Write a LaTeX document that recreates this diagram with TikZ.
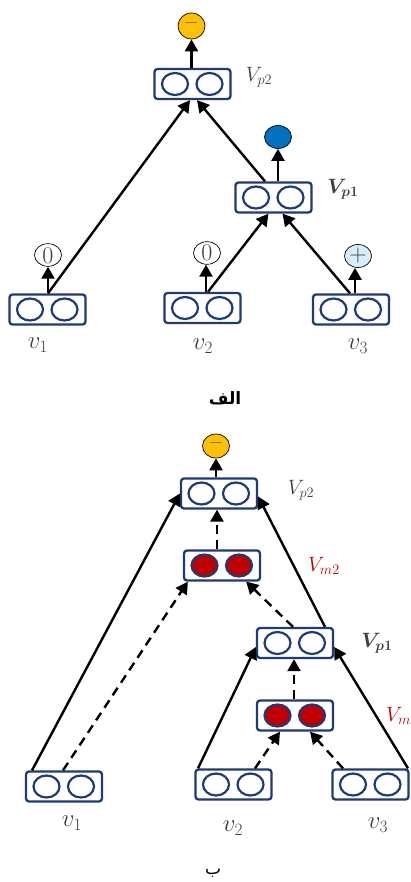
\documentclass[tikz,border=0pt]{standalone}
\usepackage{fontspec}
\usepackage{amsmath,bm}
\usetikzlibrary{shapes.geometric,arrows.meta,calc}
\TeXXeTstate=1
\newfontfamily\arabicfont[Script=Arabic]{DejaVu Sans}
\definecolor{navy}{HTML}{1F3A78}
\definecolor{txtg}{HTML}{404040}
\definecolor{redf}{HTML}{C00000}
\definecolor{yelf}{HTML}{FFC000}
\definecolor{bluef}{HTML}{0070C0}
\definecolor{lbluef}{HTML}{D5EEFB}
\tikzset{
  boxst/.style={rectangle, rounded corners=3pt, draw=navy, line width=2.3pt, fill=white,
     minimum width=76pt, minimum height=30pt, inner sep=0pt},
  innerc/.style={ellipse, draw=navy, line width=2.2pt, minimum width=26pt, minimum height=22pt, inner sep=0pt},
  outc/.style={ellipse, draw=black, line width=0.7pt, minimum width=27pt, inner sep=0pt, text=txtg,
     font=\fontsize{24}{24}\selectfont},
  arr/.style={line width=2.4pt, -{Triangle[width=13pt,length=12pt]}},
  darr/.style={line width=2.4pt, dash pattern=on 9pt off 6pt, -{Triangle[width=13pt,length=12pt]}},
  lab/.style={text=txtg, font=\fontsize{24}{24}\selectfont, inner sep=0pt},
  biglab/.style={text=txtg, font=\fontsize{21}{21}\selectfont, inner sep=0pt},
  redlab/.style={text=redf, font=\fontsize{21}{21}\selectfont, inner sep=0pt},
}
\newcommand\twobox[4]{%
  \node[boxst] (#1) at (#2,#3) {};
  \node[innerc, fill=#4] (#1l) at ([xshift=-17.5pt]#1.center) {};
  \node[innerc, fill=#4] (#1r) at ([xshift=17pt]#1.center) {};
}
\begin{document}
\begin{tikzpicture}[x=1pt,y=-1pt]
\useasboundingbox (0,0) rectangle (411,882);
% ---------- Part A ----------
\twobox{vpa}{192.5}{84}{white}
\twobox{vpb}{273.5}{197.5}{white}
\twobox{vaa}{47.5}{309.5}{white}
\twobox{vab}{202.5}{308}{white}
\twobox{vac}{351}{309.5}{white}

\node[outc, fill=yelf, minimum height=26pt, font=\fontsize{20}{20}\selectfont] (ya) at (191.5,26) {\raisebox{1pt}{\textbf{–}}};
\node[outc, fill=bluef, minimum height=23pt] (ba) at (278,137) {};
\node[outc, minimum height=20pt, text depth=0pt, text height=16pt] (za) at (48,255) {0};
\node[outc, minimum height=20pt, text depth=0pt, text height=16pt] (zb) at (207,253) {0};
\node[outc, fill=lbluef, minimum height=23pt] (pa) at (358,256) {+};

\draw[arr] (ya.south |- vpa.north) -- (ya.south);
\draw[arr] (ba.south |- vpb.north) -- (ba.south);
\draw[arr] (za.south |- vaa.north) -- (za.south);
\draw[arr] ([xshift=-1pt]zb.south |- vab.north) -- ([xshift=-1pt]zb.south);
\draw[arr] ([xshift=-3pt]pa.south |- vac.north) -- ([xshift=-3pt]pa.south);

\draw[arr] ([xshift=0.5pt]vaa.north) -- ([xshift=-2.5pt]vpa.south);
\draw[arr] ([xshift=-8.5pt]vpb.north) -- ([xshift=4.5pt]vpa.south);
\draw[arr] ([xshift=5.5pt]vab.north) -- ([xshift=-5pt]vpb.south);
\draw[arr] ([xshift=-1pt]vac.north) -- ([xshift=9pt]vpb.south);

\node[biglab] (lvp2a) at (259,77) {$V_{p2}$};
\node[biglab] (lvp1a) at (343,189) {$\bm{V}_{\bm{p1}}$};
\node[lab] (lv1a) at (38,345) {$v_1$};
\node[lab] (lv2a) at (203,346) {$v_2$};
\node[lab] (lv3a) at (358,346) {$v_3$};
\node[inner sep=0pt, font=\fontsize{17}{17}\selectfont\bfseries] (capa) at (225,398) {\arabicfont\beginR الف\endR};

% ---------- Part B ----------
\twobox{vpc}{219}{493.5}{white}
\twobox{vmc}{222}{565.5}{redf}
\twobox{vpd}{295}{643}{white}
\twobox{vmd}{295}{715.5}{redf}
\twobox{vba}{64}{786.5}{white}
\twobox{vbb}{233.5}{784.5}{white}
\twobox{vbc}{370.5}{784.5}{white}

\node[outc, fill=yelf, minimum height=24pt, font=\fontsize{20}{20}\selectfont] (yb) at (216,446) {\raisebox{1pt}{\textbf{–}}};
\draw[arr] (yb.south |- vpc.north) -- (yb.south);

\draw[darr] ([xshift=-2pt]vpc.south |- vmc.north) -- ([xshift=-2pt]vpc.south);
\draw[darr] ([xshift=-1pt]vmd.north) -- ([xshift=-1pt]vpd.south);

\draw[arr] ([xshift=-32pt]vba.north) -- (vpc.west);
\draw[darr] ([xshift=-1pt]vba.north) -- ([xshift=5pt]vmc.south west);
\draw[darr] ([xshift=-2pt]vpd.north) -- ([xshift=-15pt]vmc.south east);
\draw[arr] ([xshift=30pt]vpd.north) -- ([yshift=-3pt]vpc.east);

\draw[arr] ([xshift=-35.5pt]vbb.north) -- ([yshift=-4pt]vpd.west);
\draw[arr] ([xshift=37.5pt]vbc.north) -- ([yshift=-4pt]vpd.east);
\draw[darr] ([xshift=21.5pt]vbb.north) -- ([xshift=-15pt]vmd.south);
\draw[darr] ([xshift=-27.5pt]vbc.north) -- ([xshift=15pt]vmd.south);

\node[biglab] (lvp2b) at (301,490) {$V_{p2}$};
\node[redlab] (lvm2b) at (324,566) {$V_{m2}$};
\node[biglab] (lvp1b) at (377,643) {$\bm{V}_{\bm{p1}}$};
\node[redlab, anchor=west] (lvmb) at (386,716) {$V_{m}$};
\node[lab] (lv1b) at (72,823) {$v_1$};
\node[lab] (lv2b) at (233,828) {$v_2$};
\node[lab] (lv3b) at (378,825) {$v_3$};
\node[inner sep=0pt, font=\fontsize{17}{17}\selectfont] (capb) at (213,873) {\arabicfont\beginR ب\endR};
\end{tikzpicture}
\end{document}
